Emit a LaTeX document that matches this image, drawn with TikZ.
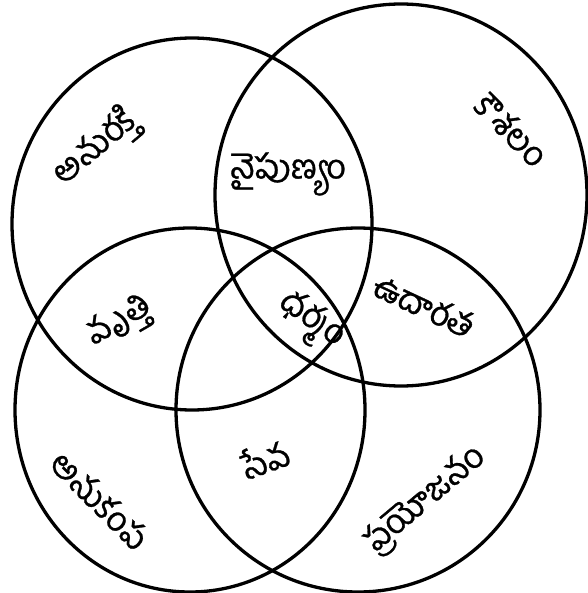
\documentclass[tikz,border=0pt]{standalone}
\usepackage{fontspec}
\newfontfamily\telugu[Script=Telugu,FakeBold=0.8]{Hind Guntur}
\begin{document}
\begin{tikzpicture}[x=1pt,y=-1pt,
  ring/.style={line width=3.3pt,draw=black},
  lbl/.style={font=\telugu\fontsize{34}{36}\selectfont,inner sep=0pt}]
\useasboundingbox (0,0) rectangle (587,593);
\draw[ring] (192,224) ellipse [x radius=180,y radius=186];
\draw[ring] (401,195) ellipse [x radius=186,y radius=191];
\draw[ring] (190,410) ellipse [x radius=175,y radius=182];
\draw[ring] (358,410) ellipse [x radius=182,y radius=182];
\node[lbl,rotate=40] (anurakti) at (95,148) {అనురక్తి};
\node[lbl,rotate=-45] (kausalam) at (512,130) {కౌశలం};
\node[lbl] (naipunyam) at (288,174) {నైపుణ్యం};
\node[lbl,rotate=-25] (udarata) at (424,305) {ఉదారత};
\node[lbl,rotate=30] (vrutti) at (120,322) {వృత్తి};
\node[lbl,rotate=-35] (dharmam) at (310,322) {ధర్మం};
\node[lbl,rotate=20] (seva) at (265,458) {సేవ};
\node[lbl,rotate=-45] (anukampa) at (100,500) {అనుకంప};
\node[lbl,rotate=40] (prayojanam) at (426,500) {ప్రయోజనం};
\end{tikzpicture}
\end{document}
